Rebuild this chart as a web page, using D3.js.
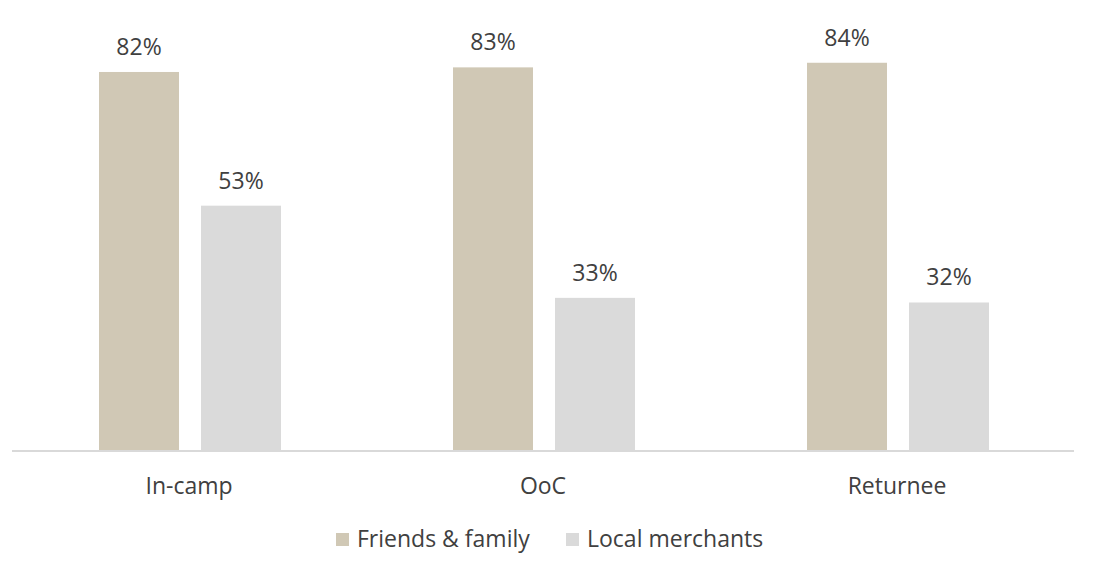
<!DOCTYPE html>
<html>
<head>
<meta charset="utf-8">
<script src="https://cdn.jsdelivr.net/npm/d3@7"></script>
<style>
  body { margin: 0; background: #fff; }
  text { font-family: "Open Sans", "Noto Sans", sans-serif; fill: #404040; }
</style>
</head>
<body>
<svg id="chart" width="1094" height="569"></svg>
<script>
// Chart data
const categories = ["In-camp", "OoC", "Returnee"];
const seriesNames = ["Friends & family", "Local merchants"];
const friendsFamily = [82, 83, 84];
const localMerchants = [53, 33, 32];
const colors = ["#d0c8b5", "#dadada"];

const rows = categories.map((c, i) => ({
    category: c,
    values: [friendsFamily[i], localMerchants[i]]
}));

const svg = d3.select("#chart");

// Layout
const left = 12, right = 1074, baseline = 450;

// X scale (categories)
const x = d3.scaleBand()
    .domain(categories)
    .range([left, right])
    .paddingInner(0)
    .paddingOuter(0);

// Inner scale for series inside each group
const barW = 80, gap = 22;
const xs = d3.scaleOrdinal()
    .domain(seriesNames)
    .range([-(barW + gap / 2) + 1, gap / 2 + 1]);

// Y scale (percent)
const y = d3.scaleLinear()
    .domain([0, 100])
    .range([baseline, baseline - 461]);

const groups = svg.selectAll(".group")
    .data(rows)
    .enter().append("g")
    .attr("class", "group")
    .attr("transform", d => "translate(" + (x(d.category) + x.bandwidth() / 2) + ",0)");

groups.selectAll("rect")
    .data(d => d.values.map((v, i) => ({ name: seriesNames[i], value: v, idx: i })))
    .enter().append("rect")
    .attr("x", d => xs(d.name))
    .attr("width", barW)
    .attr("y", d => y(d.value))
    .attr("height", d => baseline - y(d.value))
    .attr("fill", d => colors[d.idx]);

// Value labels
groups.selectAll(".val")
    .data(d => d.values.map((v, i) => ({ name: seriesNames[i], value: v })))
    .enter().append("text")
    .attr("class", "val")
    .attr("x", d => xs(d.name) + barW / 2)
    .attr("y", d => y(d.value) - 17)
    .attr("text-anchor", "middle")
    .style("font-size", "23px")
    .text(d => d.value + "%");

// Axis line
svg.append("line")
    .attr("x1", left)
    .attr("x2", right)
    .attr("y1", baseline + 1)
    .attr("y2", baseline + 1)
    .attr("stroke", "#d9d9d9")
    .attr("stroke-width", 2);

// Category labels
svg.selectAll(".cat")
    .data(categories)
    .enter().append("text")
    .attr("class", "cat")
    .attr("x", d => x(d) + x.bandwidth() / 2)
    .attr("y", 494)
    .attr("text-anchor", "middle")
    .style("font-size", "23px")
    .text(d => d);

// Legend
const legendX = [336, 566];
const legend = svg.selectAll(".legend")
    .data(seriesNames)
    .enter().append("g")
    .attr("class", "legend")
    .attr("transform", (d, i) => "translate(" + legendX[i] + ",533)");

legend.append("rect")
    .attr("width", 13)
    .attr("height", 13)
    .attr("fill", (d, i) => colors[i]);

legend.append("text")
    .attr("x", 21)
    .attr("y", 14)
    .style("font-size", "23px")
    .text(d => d);
</script>
</body>
</html>
